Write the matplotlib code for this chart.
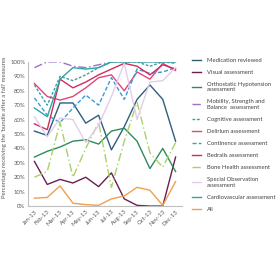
import matplotlib
matplotlib.use("Agg")
import matplotlib.pyplot as plt
from matplotlib.ticker import PercentFormatter

months = ["Jan-13", "Feb-13", "Mar-13", "Apr-13", "May-13", "Jun-13",
          "Jul-13", "Aug-13", "Sep-13", "Oct-13", "Nov-13", "Dec-13"]

medication_reviewed = [52, 49, 71.5, 71.5, 57.5, 63, 39, 55, 74, 84, 74, 45]
visual = [31, 15, 18.5, 16, 20, 13.5, 23, 5, 0.5, 0, 0, 34]
orthostatic = [34, 38, 41, 45, 46, 43, 52, 54, 45, 26, 40, 24]
mobility = [96, 100, 100, 97, 96, 98, 100, 100, 100, 100, 100, 100]
cognitive = [84, 70, 90, 87, 91, 96, 100, 100, 100, 97, 100, 99]
delirium = [85, 76, 73.5, 76, 82, 89, 91, 80, 93, 88, 99, 94]
continence = [75, 63, 58, 68, 77, 70, 89, 74, 95, 92, 93, 96]
bedrails = [57, 53, 88, 82, 86, 91, 95, 99, 97, 91, 98, 95]
bone_health = [20, 24, 58, 20, 40, 58, 13, 45, 72, 37, 27, 44]
special_obs = [62, 48, 61, 60, 44, 56, 76, 99, 60, 86, 87, 96]
cardiovascular = [68, 62, 88, 96, 95, 96, 100, 100, 100, 100, 100, 100]
all_measures = [5.5, 6, 14, 2, 1, 0.5, 5, 7, 13, 11, 0.5, 17]

series = [
    ("Medication reviewed", medication_reviewed, "#2E5E7E", "-"),
    ("Visual assessment", visual, "#6A1F4F", "-"),
    ("Orthostatic Hypotension\nassessment", orthostatic, "#2E8B5E", "-"),
    ("Mobility, Strength and\nBalance  assessment", mobility, "#9D6FCB", (0, (6, 2, 1, 2))),
    ("Cognitive assessment", cognitive, "#3C9FA8", (0, (2, 1.2))),
    ("Delirium assessment", delirium, "#E0457B", "-"),
    ("Continence assessment", continence, "#3A9BD5", (0, (3, 1.5))),
    ("Bedrails assessment", bedrails, "#D42A64", "-"),
    ("Bone Health assessment", bone_health, "#A9D16B", (0, (6, 2, 1, 2))),
    ("Special Observation\nassessment", special_obs, "#E3CDEB", "-"),
    ("Cardiovascular assessment", cardiovascular, "#2BA89F", "-"),
    ("All", all_measures, "#F0A04B", "-"),
]

plt.rcParams['font.family'] = ['Lato', 'DejaVu Sans']

fig = plt.figure(figsize=(2.8, 2.8), dpi=100)
fig.patch.set_facecolor("white")
ax = fig.add_axes([0.10, 0.264, 0.55, 0.515])

x = list(range(len(months)))
for label, vals, color, ls in series:
    ax.plot(x, vals, color=color, linestyle=ls, lw=1.0, label=label)

ax.set_xlim(-0.5, len(months) - 0.5)
ax.set_ylim(0, 100)
ax.set_yticks(range(0, 101, 10))
ax.yaxis.set_major_formatter(PercentFormatter(decimals=0))
ax.set_xticks(x)
ax.set_xticklabels(months, rotation=45, ha="right", rotation_mode="anchor")
ax.tick_params(axis="both", length=0, labelsize=4.3, colors="#595959", pad=2)
for s in ["top", "right"]:
    ax.spines[s].set_visible(False)
for s in ["left", "bottom"]:
    ax.spines[s].set_color("#BFBFBF")
    ax.spines[s].set_linewidth(0.8)

ax.set_ylabel("Percentage receiving the 'bundle after a fall' measures",
              fontsize=4.3, color="#595959", labelpad=2)
ax.yaxis.set_label_coords(-0.135, 0.55)

leg = ax.legend(loc="upper left", bbox_to_anchor=(1.05, 1.045), frameon=False,
                fontsize=4.2, handlelength=1.5, handletextpad=1.1,
                labelspacing=1.2, borderaxespad=0)
for t in leg.get_texts():
    t.set_color("#404040")
    t.set_linespacing(1.1)

fig.savefig("out.png", dpi=100, facecolor="white")
